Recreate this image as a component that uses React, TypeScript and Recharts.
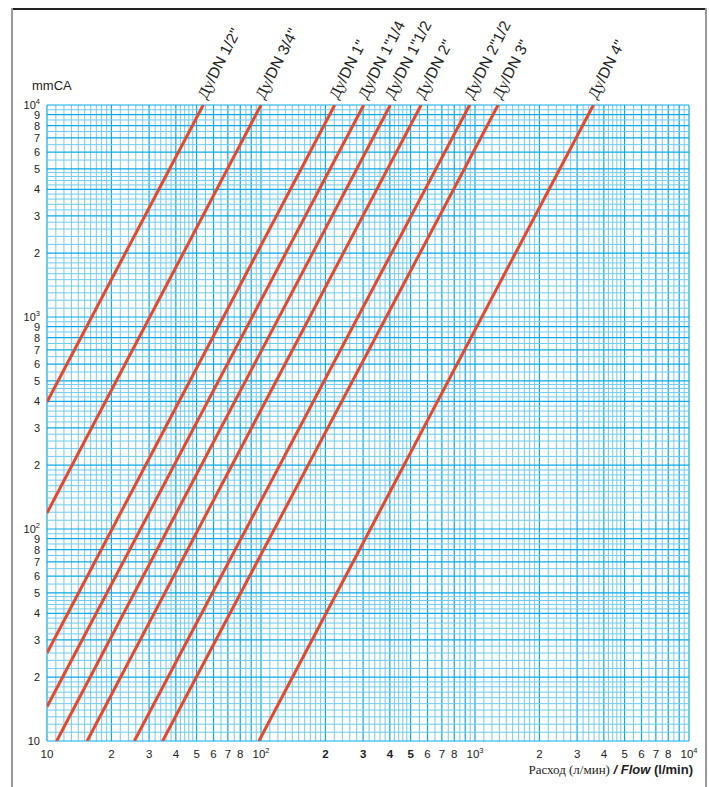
import { LineChart, Line, XAxis, YAxis, ReferenceLine, ReferenceDot } from 'recharts'

// pipe sizes and two points of each straight line (flow l/min, head mmCA)
const sizeNames = ['1/2"', '3/4"', '1"', '1"1/4', '1"1/2', '2"', '2"1/2', '3"', '4"']
const lowFlow = [10, 10, 10, 10, 11.1, 15.4, 25.6, 34.7, 97.8]
const lowHead = [397, 119, 26, 14.5, 10, 10, 10, 10, 10]
const highFlow = [53.7, 100, 221, 302, 402, 560, 944, 1282, 3575]
const highHead = [10000, 10000, 10000, 10000, 10000, 10000, 10000, 10000, 10000]

const decades = [10, 100, 1000]
const xTicks = [10, 20, 30, 40, 50, 60, 70, 80, 100, 200, 300, 400, 500, 600, 700, 800, 1000, 2000, 3000, 4000, 5000, 6000, 7000, 8000, 10000]
const yTicks = [10, 20, 30, 40, 50, 60, 70, 80, 90, 100, 200, 300, 400, 500, 600, 700, 800, 900, 1000, 2000, 3000, 4000, 5000, 6000, 7000, 8000, 9000, 10000]
const boldX = [200, 300, 400, 500]

// grid mantissas inside one decade
const gridDark = [1, 1.1, 1.2, 1.3, 1.4, 1.5, 1.6, 1.7, 1.8, 1.9, 2, 2.2, 2.4, 2.6, 2.8, 3, 3.2, 3.4, 3.6, 3.8, 4, 4.2, 4.4, 4.6, 4.8, 5, 5.5, 6, 6.5, 7, 7.5, 8, 8.5, 9, 9.5]
const gridMajor = [1, 2, 3, 4, 5, 6, 7, 8, 9]

const RED = '#e8472a'
const CYAN = '#0aa9e8'
const LIGHT = '#6fcbf1'

const gridValues: { v: number; major: boolean }[] = []
decades.forEach((d) => {
  gridDark.forEach((m) => gridValues.push({ v: +(m * d).toFixed(3), major: gridMajor.includes(m) }))
})
gridValues.push({ v: 10000, major: true })

const series = sizeNames.map((n, i) => ({
  name: n,
  data: [
    { q: lowFlow[i], h: lowHead[i] },
    { q: highFlow[i], h: highHead[i] },
  ],
}))

function label(v: number) {
  const e = Math.round(Math.log10(v))
  if (Math.abs(v - Math.pow(10, e)) < 1e-6) return { base: '10', sup: e > 1 ? String(e) : '' }
  return { base: String(Math.round(v / Math.pow(10, Math.floor(Math.log10(v) + 1e-9)))), sup: '' }
}

function XTick(props: any) {
  const { x, y, payload } = props
  const l = label(payload.value)
  return (
    <text x={x} y={y + 9} textAnchor="middle" fontSize={11.5} fill="#222" fontFamily="Liberation Sans, Arial, sans-serif"
      fontWeight={boldX.includes(payload.value) ? 700 : 400}>
      {l.base}
      {l.sup && <tspan dy={-5} fontSize={7.5}>{l.sup}</tspan>}
    </text>
  )
}

function YTick(props: any) {
  const { y, payload } = props
  const l = label(payload.value)
  return (
    <text x={40} y={y + 4} textAnchor="end" fontSize={11} fill="#222" fontFamily="Liberation Sans, Arial, sans-serif">
      {l.base}
      {l.sup && <tspan dy={-5} fontSize={7.5}>{l.sup}</tspan>}
    </text>
  )
}

function Tag({ cx, cy, name }: { cx: number; cy: number; name: string }) {
  const tx = cx + 3
  const ty = cy - 5
  return (
    <text x={tx} y={ty} transform={`rotate(-63 ${tx} ${ty})`} fontSize={15.5} fill="#222"
      fontFamily="Liberation Sans, Arial, sans-serif">
      <tspan fontFamily="Liberation Serif, Times New Roman, serif">Ду</tspan>/DN {name}
    </text>
  )
}

export default function App() {
  return (
    <div style={{ position: 'absolute', left: 0, top: 0, width: 709, height: 787, background: '#fff', fontFamily: 'Liberation Sans, Arial, sans-serif' }}>
      {/* frame */}
      <div style={{ position: 'absolute', left: 12, top: 8, width: 695, height: 1.5, background: '#222' }} />
      <div style={{ position: 'absolute', left: 11, top: 8, width: 2, height: 779, background: '#999' }} />
      <div style={{ position: 'absolute', left: 705, top: 8, width: 2, height: 779, background: '#999' }} />

      <LineChart width={709} height={787} margin={{ top: 105, right: 20, bottom: 0, left: 0 }} style={{ position: 'absolute', left: 0, top: 0 }}>
        <XAxis type="number" dataKey="q" scale="log" domain={[10, 10000]} allowDataOverflow ticks={xTicks} interval={0}
          axisLine={false} tickLine={false} height={46} tick={<XTick />} />
        <YAxis type="number" dataKey="h" scale="log" domain={[10, 10000]} allowDataOverflow ticks={yTicks} interval={0}
          axisLine={false} tickLine={false} width={47} tick={<YTick />} />
        {gridValues.map((g) => (
          <ReferenceLine key={'x' + g.v} x={g.v} stroke={g.major ? CYAN : LIGHT} strokeWidth={g.major ? 1.2 : 1} />
        ))}
        {gridValues.map((g) => (
          <ReferenceLine key={'y' + g.v} y={g.v} stroke={g.major ? CYAN : LIGHT} strokeWidth={g.major ? 1.2 : 1} />
        ))}
        {series.map((s) => (
          <Line key={s.name} data={s.data} dataKey="h" stroke={RED} strokeWidth={3} isAnimationActive={false}
            activeDot={false} dot={false} />
        ))}
        {series.map((s) => (
          <ReferenceDot key={s.name + 't'} x={s.data[1].q} y={s.data[1].h} r={0} ifOverflow="visible"
            shape={(p: any) => <Tag cx={p.cx} cy={p.cy} name={s.name} />} />
        ))}
      </LineChart>

      <div style={{ position: 'absolute', left: 32, top: 78, fontSize: 13, color: '#222' }}>mmCA</div>
      <div style={{ position: 'absolute', right: 16, top: 762, fontSize: 13, color: '#222', whiteSpace: 'nowrap' }}>
        <span style={{ fontFamily: 'Liberation Serif, serif' }}>Расход (л/мин)</span>
        <b><i> / Flow</i> (l/min)</b>
      </div>
    </div>
  )
}
